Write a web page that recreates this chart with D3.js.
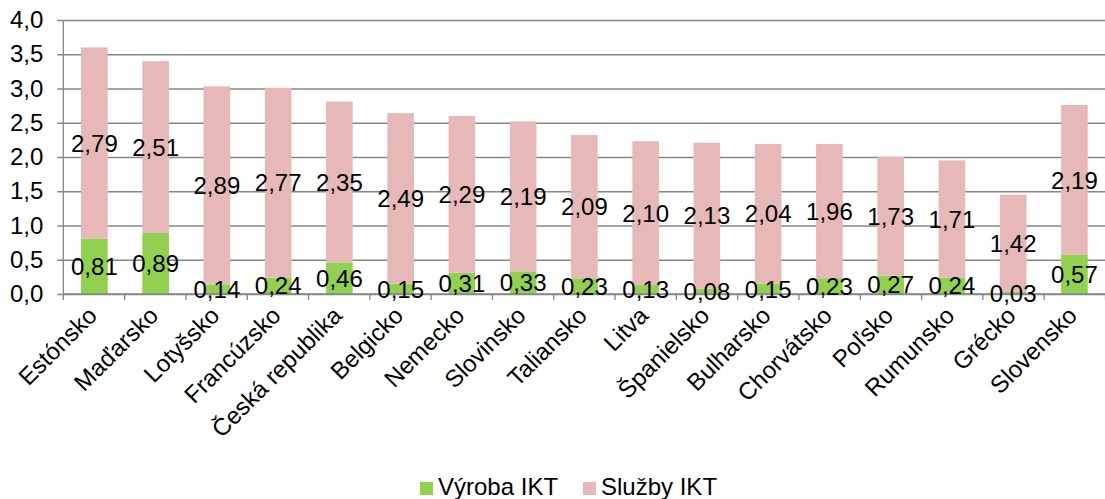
<!DOCTYPE html>
<html><head><meta charset="utf-8">
<script src="https://cdn.jsdelivr.net/npm/d3@7"></script>
<style>body{margin:0;background:#fff}svg{display:block;font-family:"Liberation Sans",Arial,sans-serif}</style>
</head><body>
<svg id="c" width="1105" height="499"></svg>
<script>
const categories = ["Estónsko","Maďarsko","Lotyšsko","Francúzsko","Česká republika","Belgicko","Nemecko","Slovinsko","Taliansko","Litva","Španielsko","Bulharsko","Chorvátsko","Poľsko","Rumunsko","Grécko","Slovensko"];
const vyroba = [0.81,0.89,0.14,0.24,0.46,0.15,0.31,0.33,0.23,0.13,0.08,0.15,0.23,0.27,0.24,0.03,0.57];
const sluzby = [2.79,2.51,2.89,2.77,2.35,2.49,2.29,2.19,2.09,2.10,2.13,2.04,1.96,1.73,1.71,1.42,2.19];
const seriesNames = ["Výroba IKT","Služby IKT"];
const colors = ["#92D050","#E6B9B8"];
const yTicks = [0,0.5,1,1.5,2,2.5,3,3.5,4];

const FS = 24;
const svg = d3.select("#c");
const L = 63.3, R = 1105.5, T = 20, B = 294;
const x = d3.scaleBand().domain(categories).range([L, R]).paddingInner(0.565).paddingOuter(0.29);
const y = d3.scaleLinear().domain([0,4]).range([B, T]);
const fmt = v => d3.format(".2f")(v).replace(".", ",");
const fmt1 = v => d3.format(".1f")(v).replace(".", ",");

// gridlines + y axis
const yAxis = d3.axisLeft(y).tickValues(yTicks).tickSize(-(R - L)).tickFormat(fmt1).tickPadding(20);
const gy = svg.append("g").attr("transform", `translate(${L},0)`).call(yAxis);
gy.select(".domain").remove();
gy.selectAll(".tick line").attr("stroke", "#868686").attr("stroke-width", 1.3).attr("x1", -6);
gy.selectAll(".tick text").attr("font-size", FS).attr("fill", "#000").attr("font-family", "Liberation Sans, Arial, sans-serif");
svg.append("line").attr("x1", L).attr("x2", L).attr("y1", T).attr("y2", B).attr("stroke", "#868686").attr("stroke-width", 1.3);

// stacked data
const rows = categories.map((c, i) => ({cat: c, v: [vyroba[i], sluzby[i]]}));
const stackData = [];
rows.forEach(r => {
  let base = 0;
  r.v.forEach((v, s) => { stackData.push({cat: r.cat, s, y0: base, y1: base + v, v}); base += v; });
});

svg.append("g").selectAll("rect").data(stackData).join("rect")
  .attr("x", d => x(d.cat)).attr("width", x.bandwidth())
  .attr("y", d => y(d.y1)).attr("height", d => y(d.y0) - y(d.y1))
  .attr("fill", d => colors[d.s]);

// x axis
const xTickPos = d3.range(categories.length + 1).map(i => L + i * (R - L) / categories.length);
svg.append("line").attr("x1", L).attr("x2", R).attr("y1", B).attr("y2", B).attr("stroke", "#868686").attr("stroke-width", 1.3);
svg.append("g").selectAll("line").data(xTickPos).join("line")
  .attr("x1", d => d).attr("x2", d => d).attr("y1", B).attr("y2", B + 6)
  .attr("stroke", "#868686").attr("stroke-width", 1.3);

// value labels
svg.append("g").selectAll("text").data(stackData).join("text")
  .attr("x", d => x(d.cat) + x.bandwidth() / 2)
  .attr("y", d => y((d.y0 + d.y1) / 2))
  .attr("dy", "0.36em").attr("text-anchor", "middle")
  .attr("font-size", FS).attr("fill", "#000")
  .text(d => fmt(d.v));

// category labels
svg.append("g").selectAll("text").data(categories).join("text")
  .attr("transform", d => `translate(${x(d) + x.bandwidth() / 2 - 2},${B + 17}) rotate(-45)`)
  .attr("text-anchor", "end").attr("dy", "0.35em")
  .attr("font-size", FS).attr("fill", "#000")
  .text(d => d);

// legend
const legend = svg.append("g");
const legX = [420, 583];
seriesNames.forEach((n, i) => {
  legend.append("rect").attr("x", legX[i]).attr("y", 482).attr("width", 13).attr("height", 13).attr("fill", colors[i]);
  legend.append("text").attr("x", legX[i] + 18).attr("y", 495)
    .attr("font-size", FS).attr("fill", "#000").text(n);
});
</script>
</body></html>
